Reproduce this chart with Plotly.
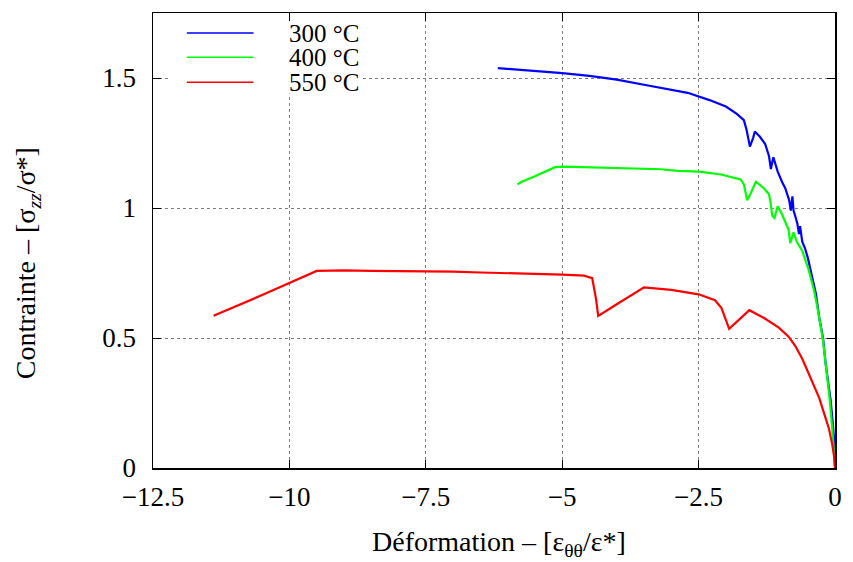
import plotly.graph_objects as go

# ---- data ----
series_names = ["300 °C", "400 °C", "550 °C"]
series_colors = ["#0000ff", "#00ff00", "#ff0000"]

x_300 = [-6.18, -5.6, -5.0, -4.5, -4.0, -3.5, -3.0, -2.7, -2.3, -2.0, -1.8, -1.67, -1.62, -1.56,
         -1.5, -1.47, -1.38, -1.28, -1.21, -1.175, -1.13, -1.05, -0.97, -0.91, -0.84, -0.81,
         -0.78, -0.76, -0.73, -0.69, -0.66, -0.64, -0.6, -0.55, -0.5, -0.42, -0.35, -0.29,
         -0.22, -0.17, -0.12, -0.08, -0.04, -0.02, 0.0]
y_300 = [1.538, 1.53, 1.519, 1.508, 1.494, 1.474, 1.455, 1.443, 1.415, 1.39, 1.362, 1.338, 1.30,
         1.236, 1.27, 1.294, 1.275, 1.246, 1.20, 1.15, 1.195, 1.14, 1.10, 1.075, 1.03, 0.99,
         1.045, 0.99, 0.97, 0.94, 0.90, 0.93, 0.87, 0.845, 0.81, 0.74, 0.67, 0.58,
         0.50, 0.40, 0.33, 0.26, 0.17, 0.12, 0.02]

x_400 = [-5.82, -5.75, -5.5, -5.13, -4.98, -4.5, -4.1, -3.5, -3.19, -2.88, -2.49, -2.09, -1.85,
         -1.73, -1.67, -1.61, -1.56, -1.45, -1.3, -1.21, -1.18, -1.15, -1.11, -1.05, -0.97,
         -0.9, -0.85, -0.82, -0.76, -0.7, -0.6, -0.48, -0.38, -0.29, -0.22, -0.17, -0.1,
         -0.05, -0.02, 0.0]
y_400 = [1.091, 1.10, 1.122, 1.157, 1.159, 1.157, 1.155, 1.152, 1.149, 1.143, 1.14, 1.129, 1.118,
         1.11, 1.091, 1.03, 1.05, 1.101, 1.075, 1.053, 1.02, 0.97, 0.962, 1.007, 0.975,
         0.94, 0.916, 0.865, 0.906, 0.87, 0.835, 0.76, 0.68, 0.58, 0.49, 0.40, 0.27,
         0.15, 0.07, 0.0]

x_550 = [-11.39, -10.5, -9.5, -9.0, -8.5, -8.0, -7.5, -7.0, -6.5, -6.0, -5.5, -5.0, -4.6, -4.45,
         -4.38, -4.34, -4.0, -3.5, -3.0, -2.5, -2.2, -2.08, -1.94, -1.57, -1.3, -1.03, -0.85,
         -0.73, -0.6, -0.48, -0.39, -0.29, -0.2, -0.11, -0.05, -0.02, 0.0]
y_550 = [0.586, 0.665, 0.758, 0.76, 0.758, 0.757, 0.758, 0.755, 0.752, 0.75, 0.746, 0.744, 0.74, 0.73,
         0.65, 0.585, 0.63, 0.695, 0.685, 0.668, 0.645, 0.615, 0.535, 0.607, 0.577, 0.54, 0.505,
         0.47, 0.42, 0.36, 0.315, 0.27, 0.21, 0.15, 0.09, 0.05, 0.0]

x_ticks = [-12.5, -10, -7.5, -5, -2.5, 0]
y_ticks = [0, 0.5, 1, 1.5]

x_title = "Déformation – [ε<sub>θθ</sub>/ε*]"
y_title = "Contrainte – [σ<sub><i>zz</i></sub>/σ*]"

FONT = "Liberation Serif"

fig = go.Figure()
for xs, ys, name, col in zip([x_300, x_400, x_550], [y_300, y_400, y_550], series_names, series_colors):
    fig.add_trace(go.Scatter(x=xs, y=ys, mode="lines", name=name,
                             line=dict(color=col, width=2.2), showlegend=False))

axis_common = dict(
    showline=True, linecolor="black", linewidth=1.5, mirror="ticks",
    ticks="inside", ticklen=8, tickcolor="black", tickwidth=1,
    showgrid=True, gridcolor="#7f7f7f", gridwidth=1, griddash="dot",
    zeroline=False,
    tickfont=dict(family=FONT, size=27, color="black"),
)

fig.update_xaxes(range=[-12.5, 0], tickvals=x_ticks, ticklabelstandoff=4, **axis_common)
fig.update_yaxes(range=[0, 1.75], tickvals=y_ticks, ticklabelstandoff=10, **axis_common)

# legend box (gnuplot-style key, opaque background)
shapes = [dict(type="rect", xref="paper", yref="paper", x0=0.0248, x1=0.305, y0=0.823, y1=0.982,
               fillcolor="white", line=dict(width=0), layer="above")]
annotations = []
leg_y = [0.956, 0.903, 0.848]
for name, col, ly in zip(series_names, series_colors, leg_y):
    shapes.append(dict(type="line", xref="paper", yref="paper", x0=0.0496, x1=0.1474, y0=ly, y1=ly,
                       line=dict(color=col, width=1.5), layer="above"))
    annotations.append(dict(text=name, xref="paper", yref="paper", x=0.197, y=ly,
                            xanchor="left", yanchor="middle", showarrow=False,
                            font=dict(family=FONT, size=25, color="black")))

annotations.append(dict(text=x_title, xref="paper", yref="paper", x=0.5066, y=-0.1225,
                        xanchor="center", yanchor="top", showarrow=False,
                        font=dict(family=FONT, size=28, color="black")))
annotations.append(dict(text=y_title, xref="paper", yref="paper", x=-0.184, y=0.449,
                        xanchor="center", yanchor="middle", textangle=-90, showarrow=False,
                        font=dict(family=FONT, size=28, color="black")))

fig.update_layout(
    width=853, height=562,
    margin=dict(l=153, r=15, t=11, b=94),
    paper_bgcolor="white", plot_bgcolor="white",
    shapes=shapes, annotations=annotations,
    showlegend=False,
)

fig.write_html("out.html",
               config={"displayModeBar": False, "staticPlot": True},
               post_script="document.body.style.margin='0';document.body.style.overflow='hidden';")
